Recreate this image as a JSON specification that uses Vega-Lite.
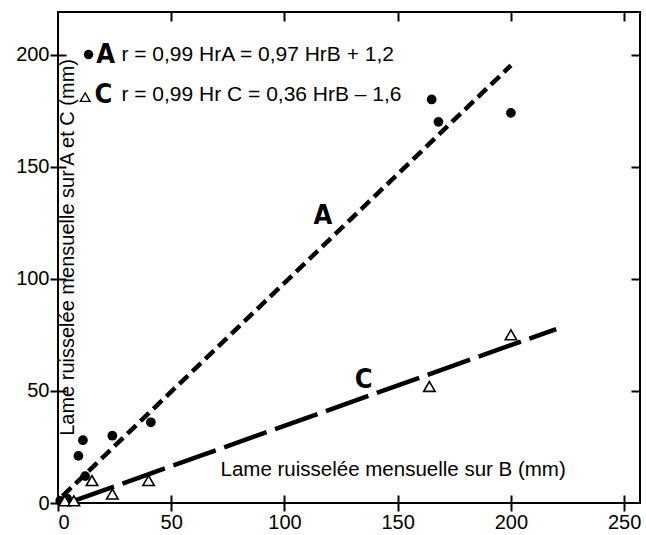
{
  "$schema": "https://vega.github.io/schema/vega-lite/v6.json",
  "width": 582,
  "height": 491,
  "autosize": {"type": "none"},
  "padding": {"left": 58, "top": 12, "right": 6, "bottom": 32},
  "background": "white",
  "config": {
    "view": {"stroke": "black", "strokeWidth": 2},
    "font": "Liberation Sans",
    "axis": {
      "labelFont": "Liberation Sans",
      "labelFontSize": 20,
      "labelColor": "black",
      "tickColor": "black",
      "tickWidth": 2,
      "grid": false,
      "domain": false,
      "title": null
    }
  },
  "datasets": {
    "pts": [
      {"x": 1, "y": 1, "site": "A"},
      {"x": 4, "y": 2, "site": "A"},
      {"x": 9, "y": 21, "site": "A"},
      {"x": 11, "y": 28, "site": "A"},
      {"x": 12, "y": 12, "site": "A"},
      {"x": 24, "y": 30, "site": "A"},
      {"x": 41, "y": 36, "site": "A"},
      {"x": 165, "y": 180, "site": "A"},
      {"x": 168, "y": 170, "site": "A"},
      {"x": 200, "y": 174, "site": "A"},
      {"x": 3, "y": 1, "site": "C"},
      {"x": 7, "y": 1, "site": "C"},
      {"x": 15, "y": 10, "site": "C"},
      {"x": 24, "y": 4, "site": "C"},
      {"x": 40, "y": 10, "site": "C"},
      {"x": 164, "y": 52, "site": "C"},
      {"x": 200, "y": 75, "site": "C"}
    ],
    "fitA": [
      {"x": 2, "y": 3.1},
      {"x": 200, "y": 195.2}
    ],
    "fitC": [
      {"x": 6, "y": 0.6},
      {"x": 220, "y": 77.6}
    ],
    "notes": [
      {"x": 28, "y": 200, "t": "r = 0,99  HrA = 0,97 HrB + 1,2"},
      {"x": 28, "y": 182, "t": "r = 0,99  Hr C = 0,36 HrB – 1,6"}
    ],
    "letters": [
      {"x": 21, "y": 200, "t": "A"},
      {"x": 20, "y": 182, "t": "C"},
      {"x": 117, "y": 128, "t": "A"},
      {"x": 135, "y": 55, "t": "C"}
    ],
    "keyA": [{"x": 13.5, "y": 200}],
    "keyC": [{"x": 12, "y": 181}]
  },
  "encoding": {
    "x": {"field": "x", "type": "quantitative", "scale": {"domain": [0, 257], "nice": false, "zero": false}},
    "y": {"field": "y", "type": "quantitative", "scale": {"domain": [0, 219], "nice": false, "zero": false}}
  },
  "layer": [
    {
      "data": {"name": "fitA"},
      "mark": {"type": "line", "color": "black", "strokeWidth": 4.5, "strokeDash": [12, 6]},
      "encoding": {
        "x": {"field": "x", "type": "quantitative", "axis": {"orient": "bottom", "values": [0, 50, 100, 150, 200, 250], "tickSize": 16, "offset": -8, "labelPadding": 1}},
        "y": {"field": "y", "type": "quantitative", "axis": {"orient": "left", "values": [0, 50, 100, 150, 200], "tickSize": 16, "offset": -8, "labelPadding": 1}}
      }
    },
    {
      "data": {"name": "fitC"},
      "mark": {"type": "line", "color": "black", "strokeWidth": 4.5, "strokeDash": [45, 9]},
      "encoding": {
        "x": {"field": "x", "type": "quantitative", "axis": {"orient": "top", "values": [50, 100, 150, 200, 250], "tickSize": 9, "offset": -9, "labels": false}},
        "y": {"field": "y", "type": "quantitative", "axis": {"orient": "right", "values": [50, 100, 150, 200], "tickSize": 9, "offset": -9, "labels": false}}
      }
    },
    {
      "data": {"name": "pts"},
      "transform": [{"filter": "datum.site === 'A'"}],
      "mark": {"type": "point", "shape": "circle", "filled": true, "color": "black", "opacity": 1, "size": 95},
      "encoding": {
        "x": {"field": "x", "type": "quantitative", "axis": null},
        "y": {"field": "y", "type": "quantitative", "axis": null}
      }
    },
    {
      "data": {"name": "pts"},
      "transform": [{"filter": "datum.site === 'C'"}],
      "mark": {"type": "point", "shape": "triangle-up", "filled": false, "color": "black", "fill": "white", "fillOpacity": 1, "strokeWidth": 1.6, "opacity": 1, "size": 130},
      "encoding": {
        "x": {"field": "x", "type": "quantitative", "axis": null},
        "y": {"field": "y", "type": "quantitative", "axis": null}
      }
    },
    {
      "data": {"name": "keyA"},
      "mark": {"type": "point", "shape": "circle", "filled": true, "color": "black", "opacity": 1, "size": 90},
      "encoding": {
        "x": {"field": "x", "type": "quantitative", "axis": null},
        "y": {"field": "y", "type": "quantitative", "axis": null}
      }
    },
    {
      "data": {"name": "keyC"},
      "mark": {"type": "point", "shape": "triangle-up", "filled": false, "color": "black", "strokeWidth": 1.4, "opacity": 1, "size": 95},
      "encoding": {
        "x": {"field": "x", "type": "quantitative", "axis": null},
        "y": {"field": "y", "type": "quantitative", "axis": null}
      }
    },
    {
      "data": {"name": "notes"},
      "mark": {"type": "text", "align": "left", "baseline": "middle", "fontSize": 21, "font": "Liberation Sans", "color": "black"},
      "encoding": {
        "x": {"field": "x", "type": "quantitative", "axis": null},
        "y": {"field": "y", "type": "quantitative", "axis": null},
        "text": {"field": "t"}
      }
    },
    {
      "data": {"name": "letters"},
      "mark": {"type": "text", "align": "center", "baseline": "middle", "fontSize": 27, "fontWeight": "bold", "font": "DejaVu Sans Condensed", "color": "black"},
      "encoding": {
        "x": {"field": "x", "type": "quantitative", "axis": null},
        "y": {"field": "y", "type": "quantitative", "axis": null},
        "text": {"field": "t"}
      }
    },
    {
      "data": {"values": [{"x": 148, "y": 14.5, "t": "Lame ruisselée mensuelle sur B (mm)"}]},
      "mark": {"type": "text", "align": "center", "baseline": "middle", "fontSize": 20.5, "font": "Liberation Sans", "color": "black"},
      "encoding": {
        "x": {"field": "x", "type": "quantitative", "axis": null},
        "y": {"field": "y", "type": "quantitative", "axis": null},
        "text": {"field": "t"}
      }
    },
    {
      "data": {"values": [{"x": 4.6, "y": 114, "t": "Lame ruisselée mensuelle sur A et C (mm)"}]},
      "mark": {"type": "text", "align": "center", "baseline": "middle", "angle": 270, "fontSize": 20, "font": "Liberation Sans", "color": "black"},
      "encoding": {
        "x": {"field": "x", "type": "quantitative", "axis": null},
        "y": {"field": "y", "type": "quantitative", "axis": null},
        "text": {"field": "t"}
      }
    }
  ],
  "resolve": {"axis": {"x": "independent", "y": "independent"}}
}
